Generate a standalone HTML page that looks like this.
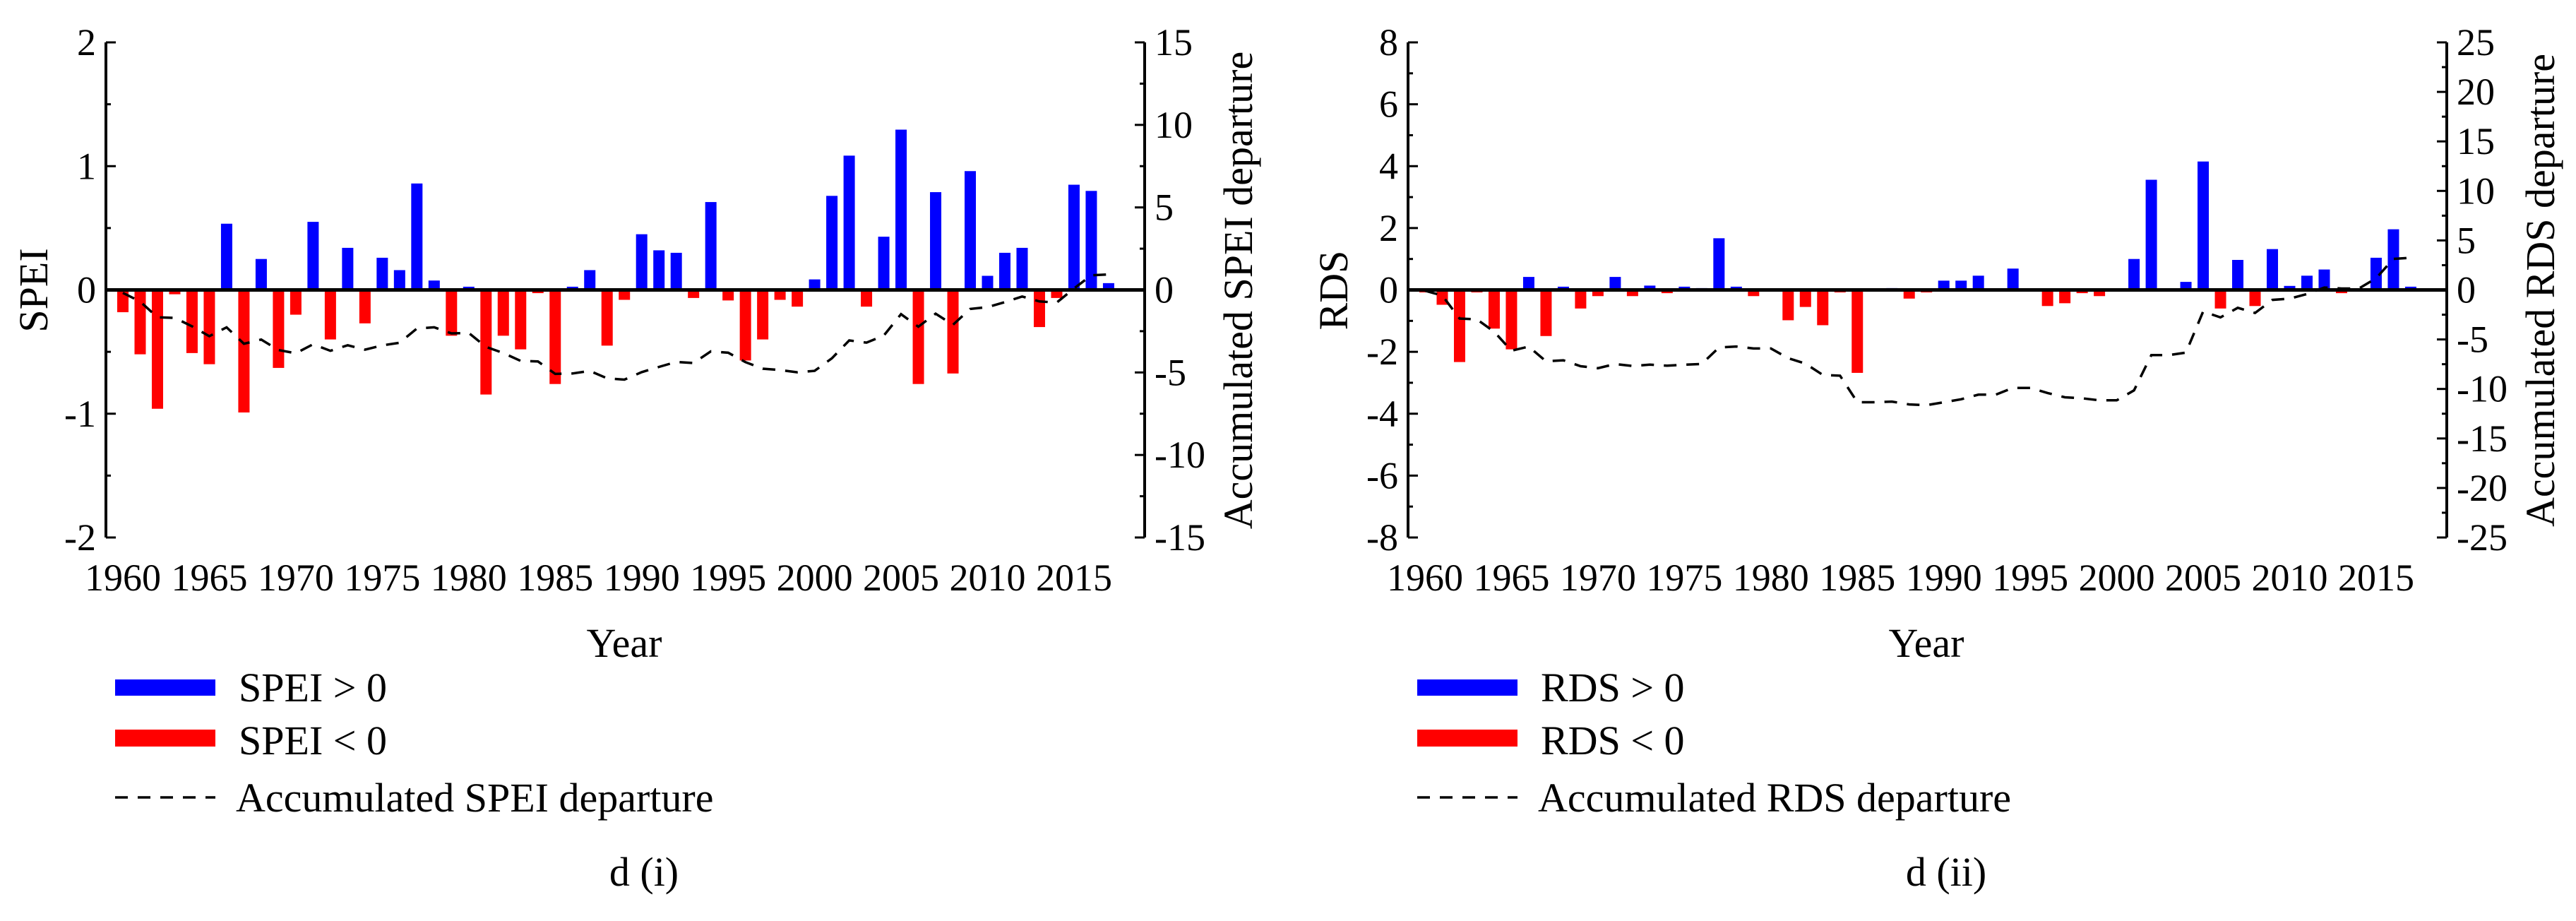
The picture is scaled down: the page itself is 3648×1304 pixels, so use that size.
<!DOCTYPE html>
<html><head><meta charset="utf-8">
<style>
html,body{margin:0;padding:0;background:#fff;}
svg{display:block;}
svg text{font-family:"Liberation Serif","Times New Roman",serif;}
</style></head>
<body>
<svg id="fig" width="3648" height="1304" viewBox="0 0 3648 1304" xmlns="http://www.w3.org/2000/svg" font-family="Liberation Serif, serif">
<rect width="3648" height="1304" fill="#fff"/>
</svg>
<script>
const years = [];
for (let y = 1960; y <= 2017; y++) years.push(y);
const xTickLabels = ["1960","1965","1970","1975","1980","1985","1990","1995","2000","2005","2010","2015"];
const speiValues = [-0.18,-0.52,-0.96,-0.035,-0.51,-0.60,0.535,-0.99,0.25,-0.63,
 -0.20,0.55,-0.40,0.34,-0.27,0.26,0.16,0.86,0.076,-0.37,
 0.026,-0.845,-0.37,-0.48,-0.026,-0.76,0.026,0.16,-0.45,-0.08,
 0.45,0.32,0.30,-0.065,0.71,-0.085,-0.57,-0.40,-0.08,-0.135,
 0.085,0.76,1.085,-0.135,0.43,1.295,-0.76,0.79,-0.675,0.96,
 0.114,0.30,0.34,-0.30,-0.065,0.85,0.80,0.055];
const rdsValues = [-0.08,-0.48,-2.33,-0.08,-1.25,-1.92,0.42,-1.49,0.105,-0.60,
 -0.20,0.42,-0.20,0.14,-0.105,0.105,0.06,1.67,0.105,-0.20,
 0.0,-0.98,-0.55,-1.14,-0.08,-2.68,0.0,0.06,-0.28,-0.08,
 0.30,0.30,0.46,0.0,0.69,0.0,-0.52,-0.43,-0.105,-0.20,
 0.0,1.0,3.56,0.0,0.26,4.15,-0.60,0.97,-0.52,1.32,
 0.13,0.46,0.66,-0.105,0.0,1.04,1.96,0.105];
const speiLeftTicks = [-2,-1,0,1,2];
const speiRightTicks = [-15,-10,-5,0,5,10,15];
const rdsLeftTicks = [-8,-6,-4,-2,0,2,4,6,8];
const rdsRightTicks = [-25,-20,-15,-10,-5,0,5,10,15,20,25];

const NS = "http://www.w3.org/2000/svg";
const svg = document.getElementById("fig");
const FONT = "'Liberation Serif', 'Times New Roman', serif";
function mk(tag, attrs, parent, text) {
  const e = document.createElementNS(NS, tag);
  for (const k in attrs) e.setAttribute(k, attrs[k]);
  if (tag === "text") e.setAttribute("font-family", FONT);
  if (text !== undefined) e.textContent = text;
  (parent || svg).appendChild(e);
  return e;
}
function cumsum(a){ let s=0; return a.map(v => (s += v)); }

function panel(off, name, vals, lMax, lTicks, lMinor, rMax, rTicks, rMinor, tag) {
  const g = mk("g", {transform: "translate(" + off + ",0)"});
  
  
  const axL = 150, axR = 1621, top = 60, bot = 761;
  const x = yr => 174 + (yr - 1960) * 24.49;
  const yL = v => 410.5 - v / lMax * 350.5;
  const yR = v => 410.5 - v / rMax * 350.5;
  vals.forEach((v, i) => {
    if (v === 0) return;
    const y0 = yL(0), y1 = yL(v);
    const r = mk("rect", {x: x(years[i]) - 8, y: Math.min(y0, y1), width: 16, height: Math.abs(y1 - y0), fill: v > 0 ? "#0000ff" : "#ff0000"}, g);
    
    
  });
  const zl = mk("line", {x1: axL, x2: axR, y1: yL(0), y2: yL(0), stroke: "#000", "stroke-width": 5}, g);
  
  
  const acc = cumsum(vals);
  const pts = acc.map((v, i) => x(years[i]).toFixed(1) + "," + yR(v).toFixed(1)).join(" ");
  const pl = mk("polyline", {points: pts, fill: "none", stroke: "#000", "stroke-width": 3.5, "stroke-dasharray": "18 14"}, g);
  
  
  const la = mk("line", {x1: axL, x2: axL, y1: top, y2: bot, stroke: "#000", "stroke-width": 4}, g);
  
  
  const ra = mk("line", {x1: axR, x2: axR, y1: top, y2: bot, stroke: "#000", "stroke-width": 4}, g);
  
  
  for (let v = -lMax; v <= lMax + 1e-9; v += lMinor) {
    const major = lTicks.some(t => Math.abs(t - v) < 1e-9);
    mk("line", {x1: axL, x2: axL + (major ? 14 : 7), y1: yL(v), y2: yL(v), stroke: "#000", "stroke-width": 3}, g);
  }
  for (let v = -rMax; v <= rMax + 1e-9; v += rMinor) {
    const major = rTicks.some(t => Math.abs(t - v) < 1e-9);
    mk("line", {x1: axR, x2: axR - (major ? 14 : 7), y1: yR(v), y2: yR(v), stroke: "#000", "stroke-width": 3}, g);
  }
  lTicks.forEach(t => {
    const e = mk("text", {x: axL - 14, y: yL(t) + 18, "text-anchor": "end", "font-size": 54}, g, t < 0 ? "-" + Math.abs(t) : String(t));
    
    
  });
  rTicks.forEach(t => {
    const e = mk("text", {x: axR + 14, y: yR(t) + 18, "text-anchor": "start", "font-size": 54}, g, t < 0 ? "-" + Math.abs(t) : String(t));
    
    
  });
  xTickLabels.forEach(t => {
    const e = mk("text", {x: x(+t), y: 836, "text-anchor": "middle", "font-size": 54}, g, t);
    
    
  });
  const xt = mk("text", {x: 884, y: 930, "text-anchor": "middle", "font-size": 58}, g, "Year");
  
  
  const lt = mk("text", {x: 0, y: 0, "text-anchor": "middle", "font-size": 58, transform: "translate(" + (tag === "spei" ? 67 : 64) + ",411) rotate(-90)"}, g, name);
  
  
  const rt = mk("text", {x: 0, y: 0, "text-anchor": "middle", "font-size": 58, transform: "translate(" + 1773 + ",411) rotate(-90)"}, g, "Accumulated " + name + " departure");
  
  
  const b1 = mk("rect", {x: 163, y: 962, width: 142, height: 23, fill: "#0000ff"}, g);
  
  
  const t1 = mk("text", {x: 338, y: 993, "font-size": 58}, g, name + " > 0");
  
  
  const b2 = mk("rect", {x: 163, y: 1033, width: 142, height: 24, fill: "#ff0000"}, g);
  
  
  const t2 = mk("text", {x: 338, y: 1068, "font-size": 58}, g, name + " < 0");
  
  
  const l3 = mk("line", {x1: 163, x2: 305, y1: 1129, y2: 1129, stroke: "#000", "stroke-width": 3.5, "stroke-dasharray": "18 14"}, g);
  
  
  const t3 = mk("text", {x: 334, y: 1149, "font-size": 58}, g, "Accumulated " + name + " departure");
  
  
  const cap = mk("text", {x: 912, y: 1254, "text-anchor": "middle", "font-size": 58}, g, tag === "spei" ? "d (i)" : "d (ii)");
  
  
}
panel(0, "SPEI", speiValues, 2, speiLeftTicks, 0.5, 15, speiRightTicks, 2.5, "spei");
panel(1844, "RDS", rdsValues, 8, rdsLeftTicks, 1, 25, rdsRightTicks, 2.5, "rds");
</script>
</body></html>
